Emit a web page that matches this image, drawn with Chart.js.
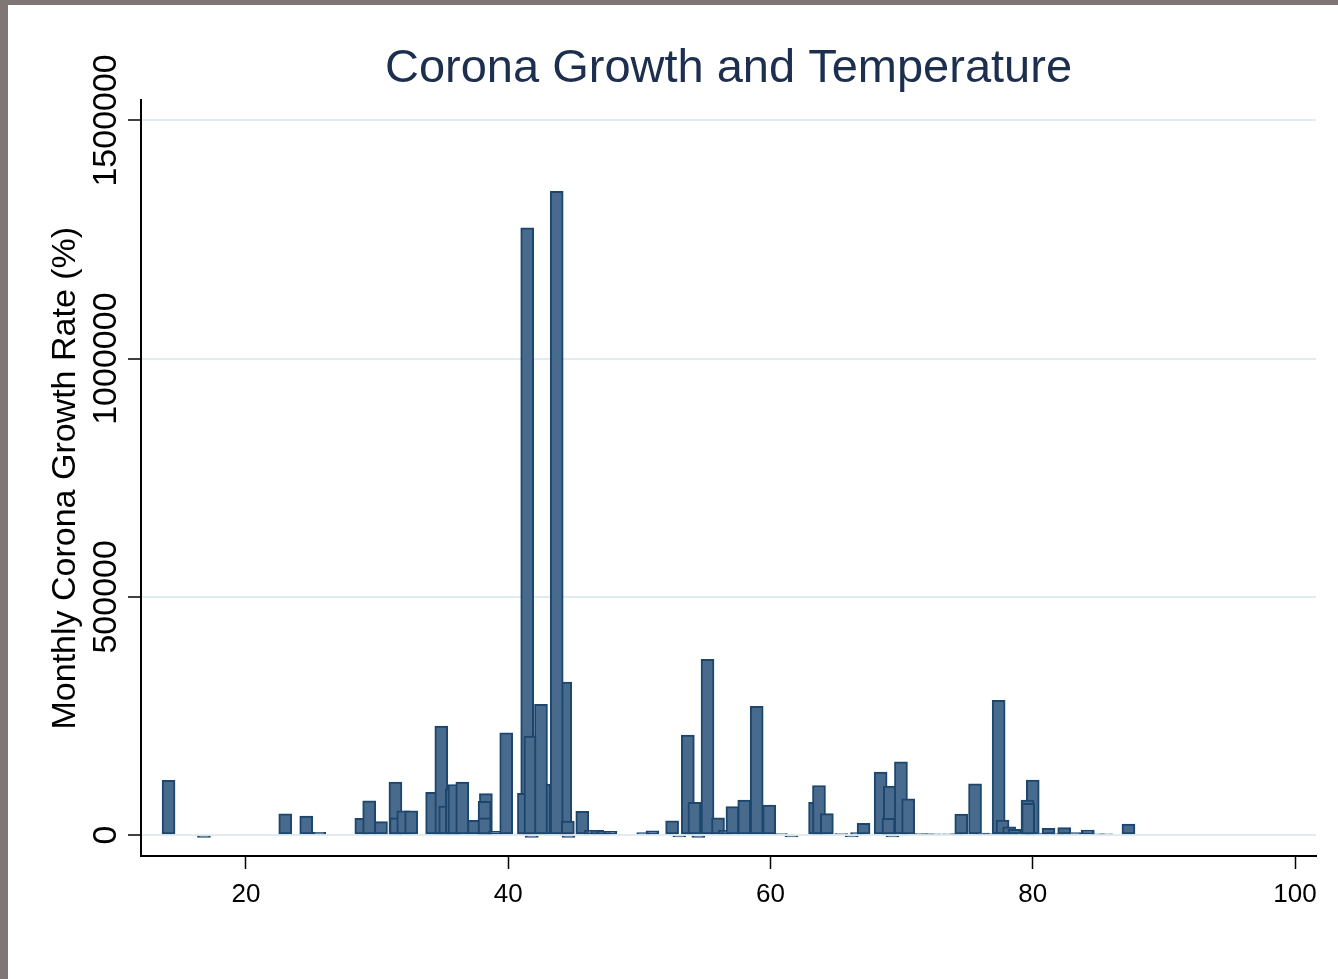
<!DOCTYPE html>
<html>
<head>
<meta charset="utf-8">
<title>Corona Growth and Temperature</title>
<script src="https://cdn.jsdelivr.net/npm/chart.js@4/dist/chart.umd.min.js"></script>
<style>
    html, body { margin: 0; padding: 0; }
    body { background: #7f7775; width: 1338px; height: 979px; overflow: hidden; }
    #wrap { position: absolute; left: 8px; top: 5px; width: 1330px; height: 974px; background: #fff; }
</style>
</head>
<body>
<div id="wrap"><canvas id="growthChart" width="1330" height="974"></canvas></div>
<script>
// Temperatura (eje x) y crecimiento mensual (eje y), en el orden en que se dibujan
const temperature = [
    14.1, 16.8, 23.0, 24.6, 25.6, 28.8, 29.4, 30.3, 31.4, 31.45,
    32.0, 32.6, 34.2, 34.9, 35.2, 35.7, 35.9, 36.5, 37.4, 38.3,
    38.2, 38.2, 39.0, 39.85, 41.45, 41.2, 41.7, 41.8, 42.75, 44.35,
    42.5, 43.7, 44.55, 44.6, 45.65, 46.3, 46.8, 47.3, 47.8, 50.3,
    51.0, 52.5, 53.05, 53.7, 54.2, 54.5, 55.2, 56.0, 56.5, 57.1,
    58.0, 58.95, 59.9, 60.8, 61.6, 63.4, 63.7, 64.3, 65.4, 66.2,
    66.6, 67.1, 68.4, 69.1, 69.0, 69.3, 69.95, 70.5, 71.5, 72.0,
    72.5, 73.6, 74.2, 74.55, 75.6, 76.2, 76.7, 77.4, 77.7, 78.2,
    78.6, 79.2, 80.0, 79.6, 79.65, 80.7, 81.2, 81.9, 82.4, 83.2,
    84.2, 85.0, 85.6, 87.3
];
const growthRate = [
    115000, -5000, 44600, 39800, 5600, 35000, 72000, 28000, 111000, 36000,
    51000, 51000, 89500, 228500, 61000, 97000, 106000, 111000, 31000, 87000,
    71000, 36000, 8000, 214700, 1274600, 87400, 207500, -5000, 107000, 321000,
    274600, 1351000, 29500, -5000, 50000, 10000, 10000, 8000, 8000, 5000,
    9000, 30000, -4000, 210000, 68500, -5000, 369000, 36000, 10000, 59500,
    73400, 270400, 62900, 3000, -4000, 68500, 104000, 45000, 3000, -4000,
    5000, 24500, 132000, 102700, 35000, -4000, 153700, 76000, 3000, 2500,
    2500, 2500, 2500, 44000, 107600, 4000, 3000, 283000, 31400, 17000,
    12000, 3000, 115300, 73400, 66400, 4000, 14000, 3000, 15400, 5000,
    10500, 2500, 2500, 23000
];
const xTicks = [20, 40, 60, 80, 100];
const yTicks = [0, 500000, 1000000, 1500000];

const points = temperature.map((t, i) => ({ x: t, y: growthRate[i] }));

// Etiquetas del eje y giradas 90 grados, como en Stata
const yTickLabels = {
    id: 'yTickLabels',
    afterDraw(chart) {
        const ctx = chart.ctx;
        const yScale = chart.scales.y;
        ctx.save();
        ctx.fillStyle = '#000';
        ctx.font = '34px "Liberation Sans", Arial, sans-serif';
        ctx.textAlign = 'center';
        ctx.textBaseline = 'alphabetic';
        yTicks.forEach(v => {
            const py = yScale.getPixelForValue(v);
            ctx.save();
            ctx.translate(108, py);
            ctx.rotate(-Math.PI / 2);
            ctx.fillText(String(v), 0, 0);
            ctx.restore();
        });
        ctx.restore();
    }
};

document.addEventListener('DOMContentLoaded', function() {
    const ctx = document.getElementById('growthChart').getContext('2d');
    new Chart(ctx, {
        type: 'bar',
        data: {
            datasets: [{
                data: points,
                backgroundColor: 'rgb(72, 106, 140)',
                borderColor: 'rgb(28, 70, 110)',
                borderWidth: 2,
                borderSkipped: false,
                barThickness: 13
            }]
        },
        options: {
            responsive: false,
            animation: false,
            layout: { padding: { top: 0, right: 22, bottom: 0, left: 0 } },
            plugins: {
                legend: { display: false },
                tooltip: { enabled: false },
                title: {
                    display: true,
                    fullSize: false,
                    text: 'Corona Growth and Temperature',
                    color: '#1c2f4f',
                    font: { family: '"Liberation Sans", Arial, sans-serif', size: 47, weight: 'normal' },
                    padding: { top: 36, bottom: 3 }
                }
            },
            scales: {
                x: {
                    type: 'linear',
                    min: 12,
                    max: 101.6,
                    offset: false,
                    afterBuildTicks: scale => { scale.ticks = xTicks.map(v => ({ value: v })); },
                    afterFit: scale => { scale.height = 123; },
                    grid: {
                        offset: false,
                        drawOnChartArea: false,
                        drawTicks: true,
                        tickLength: 13,
                        tickColor: '#000',
                        tickWidth: 1.5
                    },
                    border: { display: true, color: '#000', width: 2 },
                    ticks: {
                        color: '#000',
                        padding: 10,
                        maxRotation: 0,
                        font: { family: '"Liberation Sans", Arial, sans-serif', size: 26 }
                    }
                },
                y: {
                    min: -44000,
                    max: 1542000,
                    afterBuildTicks: scale => { scale.ticks = yTicks.map(v => ({ value: v })); },
                    afterFit: scale => { scale.width = 133; },
                    grid: {
                        color: 'rgb(225, 236, 240)',
                        lineWidth: 2,
                        drawTicks: true,
                        tickLength: 13,
                        tickColor: '#000',
                        tickWidth: 1.5
                    },
                    border: { display: true, color: '#000', width: 2 },
                    ticks: { display: false },
                    title: {
                        display: true,
                        text: 'Monthly Corona Growth Rate (%)',
                        color: '#000',
                        font: { family: '"Liberation Sans", Arial, sans-serif', size: 34 },
                        padding: { top: 37, bottom: 0 }
                    }
                }
            }
        },
        plugins: [yTickLabels]
    });
});
</script>
</body>
</html>
